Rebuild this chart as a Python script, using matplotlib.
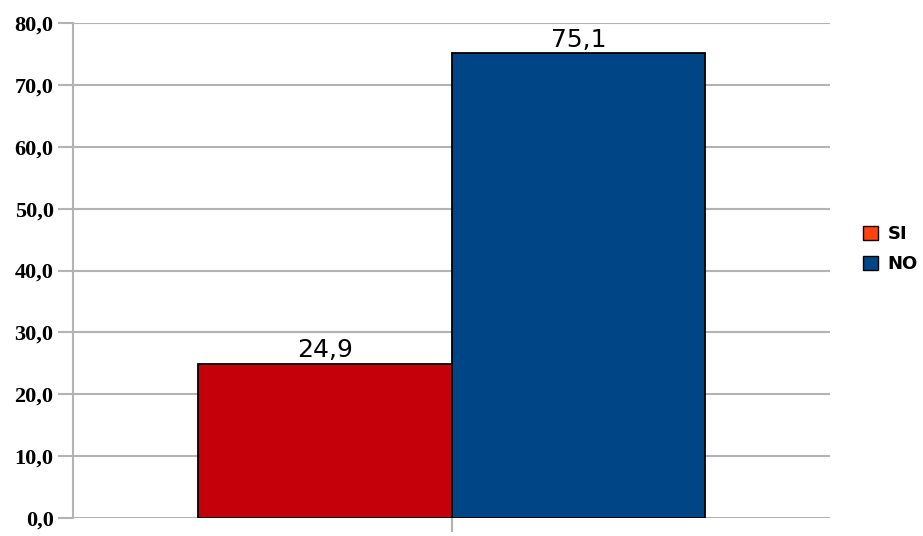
import matplotlib
matplotlib.use('Agg')
import matplotlib.pyplot as plt
from matplotlib.patches import Patch

# ── Data ─────────────────────────────────────────────
series = ["SI", "NO"]
values = [24.9, 75.1]
bar_colors = ["#c5000b", "#004586"]
legend_colors = ["#ff420e", "#004586"]
yticks = [0, 10, 20, 30, 40, 50, 60, 70, 80]

GRID = "#b3b3b3"

fig = plt.figure(figsize=(9.23, 5.36), dpi=100, facecolor="white")
ax = fig.add_axes([0.0791, 0.0336, 0.8202, 0.9234])

width = 0.335
offsets = [-width / 2, width / 2]
for name, v, c, off in zip(series, values, bar_colors, offsets):
    ax.bar(off, v, width=width, color=c, edgecolor="black", linewidth=1.3,
           zorder=3)
    ax.text(off, v + 0.3, f"{v:.1f}".replace(".", ","), ha="center",
            va="bottom", fontsize=18, color="black", zorder=4)

ax.set_xlim(-0.5, 0.5)
ax.set_ylim(0, 80)
ax.set_yticks(yticks)
ax.set_yticklabels([f"{t:.1f}".replace(".", ",") for t in yticks],
                   fontsize=16, fontweight="bold", family="Liberation Serif")
ax.set_xticks([0])
ax.set_xticklabels([""])
ax.tick_params(axis="y", length=11, width=1.5, color=GRID, pad=3)
ax.tick_params(axis="x", length=10, width=1.5, color=GRID)

ax.grid(axis="y", color=GRID, linewidth=1.5, zorder=0)
for s in ["top", "right", "bottom"]:
    ax.spines[s].set_visible(False)
ax.spines["left"].set_color(GRID)
ax.spines["left"].set_linewidth(1.5)

handles = [Patch(facecolor=c, edgecolor="black", linewidth=1) for c in legend_colors]
leg = fig.legend(handles, series, loc="center left", bbox_to_anchor=(0.929, 0.535),
                 frameon=False, handlelength=0.85, handleheight=0.85,
                 handletextpad=0.5, labelspacing=0.65, borderpad=0.2,
                 borderaxespad=0.1,
                 prop={"size": 13, "weight": "bold"})

fig.savefig("out.png", dpi=100, facecolor="white")
